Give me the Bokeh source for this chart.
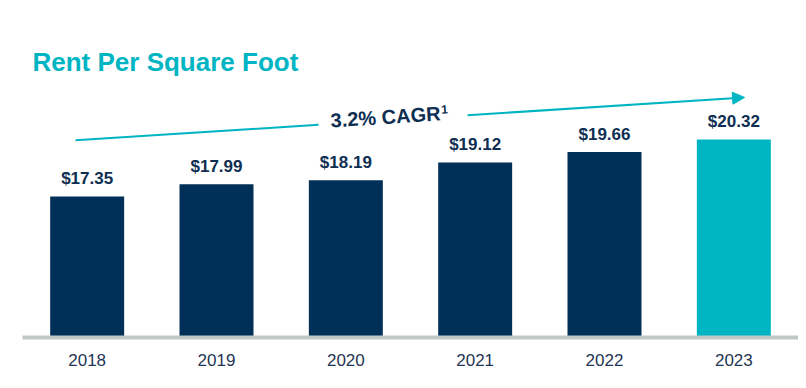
from bokeh.plotting import figure
from bokeh.models import ColumnDataSource, FactorRange, Range1d, Arrow, NormalHead
from bokeh.core.properties import value
from bokeh.embed import file_html
from bokeh.resources import INLINE

# ---- data ----
years = ["2018", "2019", "2020", "2021", "2022", "2023"]
rent = [17.35, 17.99, 18.19, 19.12, 19.66, 20.32]
title_text = "Rent Per Square Foot"
cagr_text = "3.2% CAGR"
cagr_note = "1"

NAVY = "#003057"
TEAL = "#00B5C3"
FONT = "Liberation Sans"

colors = [NAVY] * (len(years) - 1) + [TEAL]
labels = ["$%.2f" % v for v in rent]
src = ColumnDataSource(dict(x=years, top=rent, color=colors, label=labels))

p = figure(
    width=798, height=388,
    x_range=FactorRange(*years, range_padding=0),
    y_range=Range1d(10, 27.14),
    output_backend="svg", toolbar_location=None,
    y_axis_location=None,
    min_border_left=22, min_border_right=0, min_border_top=8, min_border_bottom=51,
)
p.outline_line_color = None
p.xgrid.visible = False
p.ygrid.visible = False

p.vbar(x="x", top="top", bottom=10, width=0.572, color="color", line_color=None, source=src)

p.text(x="x", y="top", text="label", source=src, y_offset=-18,
       text_align="center", text_baseline="alphabetic",
       text_font=value(FONT), text_font_style="bold", text_font_size="17px",
       text_color="#0E2E52")

# title
p.text(x=[0.0773], y=[24.33], text=[title_text], text_align="left", text_baseline="alphabetic",
       text_font=value(FONT), text_font_style="bold", text_font_size="26px", text_color=TEAL)

# CAGR arrow (split around the label)
p.segment(x0=[0.41], y0=[20.27], x1=[2.289], y1=[21.08], line_color=TEAL, line_width=2)
p.add_layout(Arrow(x_start=3.441, y_start=21.58, x_end=5.583, y_end=22.507,
                   line_color=TEAL, line_width=2,
                   end=NormalHead(size=12, fill_color=TEAL, line_color=TEAL)))
p.text(x=[2.807], y=[21.493], text=[cagr_text], angle=0.0642, text_align="center",
       text_baseline="alphabetic", text_font=value(FONT), text_font_style="bold",
       text_font_size="20px", text_color="#0E2E52")
p.text(x=[3.263], y=[21.90], text=[cagr_note], angle=0.0642, text_align="center",
       text_baseline="alphabetic", text_font=value(FONT), text_font_style="bold",
       text_font_size="12px", text_color="#0E2E52")

ax = p.xaxis[0]
ax.axis_line_color = "#BFC7C7"
ax.axis_line_width = 4
ax.major_tick_line_color = None
ax.minor_tick_line_color = None
ax.major_tick_in = 0
ax.major_tick_out = 0
ax.major_label_standoff = 16
ax.major_label_text_font = FONT
ax.major_label_text_font_size = "17px"
ax.major_label_text_color = "#1F3554"

open("out.html", "w").write(file_html(p, INLINE))
